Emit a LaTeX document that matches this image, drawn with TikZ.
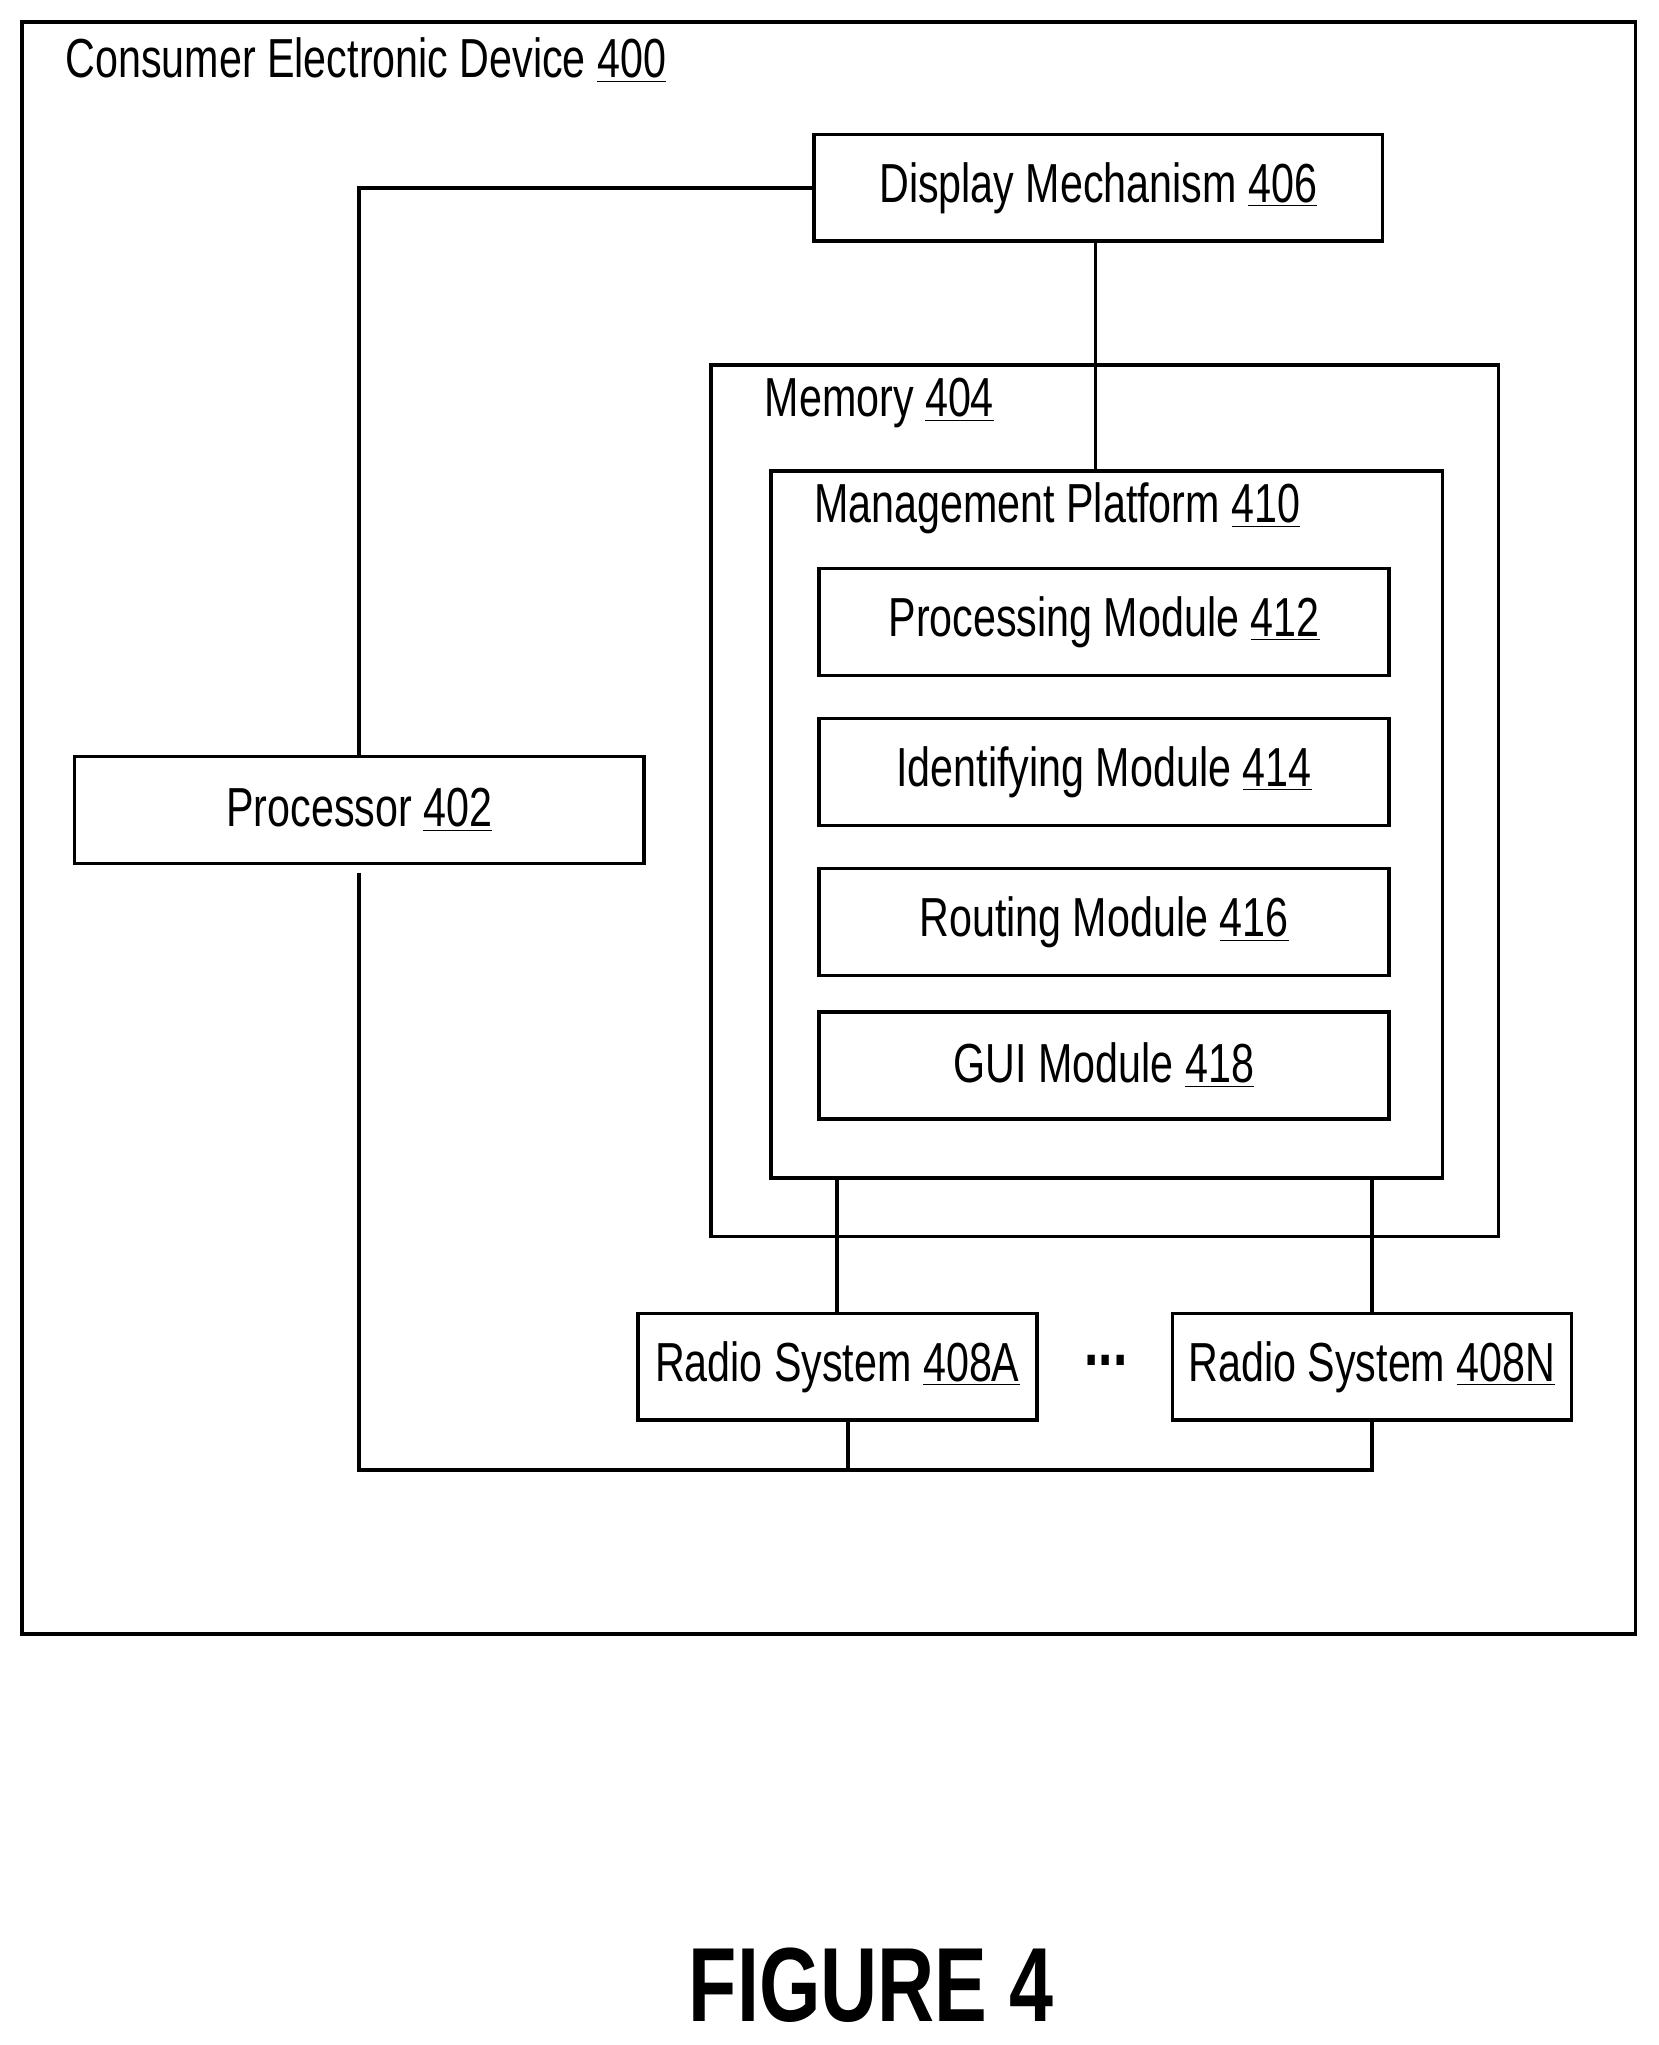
\documentclass[tikz,border=0pt]{standalone}
\usepackage{fontspec}
\setmainfont{Liberation Sans}[FakeStretch=0.75]
\usetikzlibrary{positioning}
\tikzset{
  box/.style={draw,line width=1.6pt,inner sep=0pt},
  lbl/.style={font=\fontsize{24}{28}\selectfont,inner sep=0pt},
  wire/.style={line width=1.6pt}
}
\newcommand{\num}[1]{\underline{#1}}
\begin{document}
\begin{tikzpicture}[x=0.02cm,y=-0.02cm]
    \useasboundingbox (0,0) rectangle (1272,1568);
    % containers
    \draw[box] (17,17) rectangle (1254,1253);
    \node[lbl,anchor=west] (devlbl) at (50,46) {Consumer Electronic Device \num{400}};
    \draw[box] (545,280) rectangle (1149,948);
    \node[lbl,anchor=west] (memlbl) at (586,309) {Memory \num{404}};
    \draw[box] (591,361) rectangle (1106,903);
    \coordinate (mgmttop) at (840,361);
    \coordinate (mgmtA) at (642,903);
    \coordinate (mgmtN) at (1052,903);
    \node[lbl,anchor=west] (mgmtlbl) at (624,390) {Management Platform \num{410}};

    % boxes
    \node[box,minimum width=8.72cm,minimum height=1.64cm] (display) at (842,144) {};
    \node[lbl] at (display) {Display Mechanism \num{406}};
    \node[box,minimum width=8.74cm,minimum height=1.64cm] (proc) at (275.5,621) {};
    \node[lbl] at (proc) {Processor \num{402}};
    \foreach \y/\t in {477/Processing Module \num{412},592/Identifying Module \num{414},707/Routing Module \num{416},817/GUI Module \num{418}}
      \node[box,minimum width=8.74cm,minimum height=1.64cm] at (846.5,\y) {} node[lbl] at (846.5,\y) {\t};
    \node[box,minimum width=6.12cm,minimum height=1.64cm] (radioA) at (642,1048) {};
    \node[lbl] at (radioA) {Radio System \num{408A}};
    \node[box,minimum width=6.12cm,minimum height=1.64cm] (radioN) at (1052,1048) {};
    \node[lbl] at (radioN) {Radio System \num{408N}};
    \node[font=\fontsize{30}{30}\selectfont\bfseries] (dots) at (848,1043) {...};

    % wires
    \coordinate (bus) at (650,1127);
    \draw[wire] (display.west) -| (proc.north);
    \draw[wire] (display.south -| mgmttop) -- (mgmttop);
    \draw[wire] (mgmtA) -- (mgmtA |- radioA.north);
    \draw[wire] (mgmtN) -- (radioN.north);
    \draw[wire] ([yshift=-0.12cm]proc.south) |- (radioN.south |- bus) -- (radioN.south);
    \draw[wire] (radioA.south -| bus) -- (bus);

    \node[font=\fontsize{46}{50}\selectfont\bfseries] (fig) at (668,1522) {FIGURE 4};
\end{tikzpicture}
\end{document}
